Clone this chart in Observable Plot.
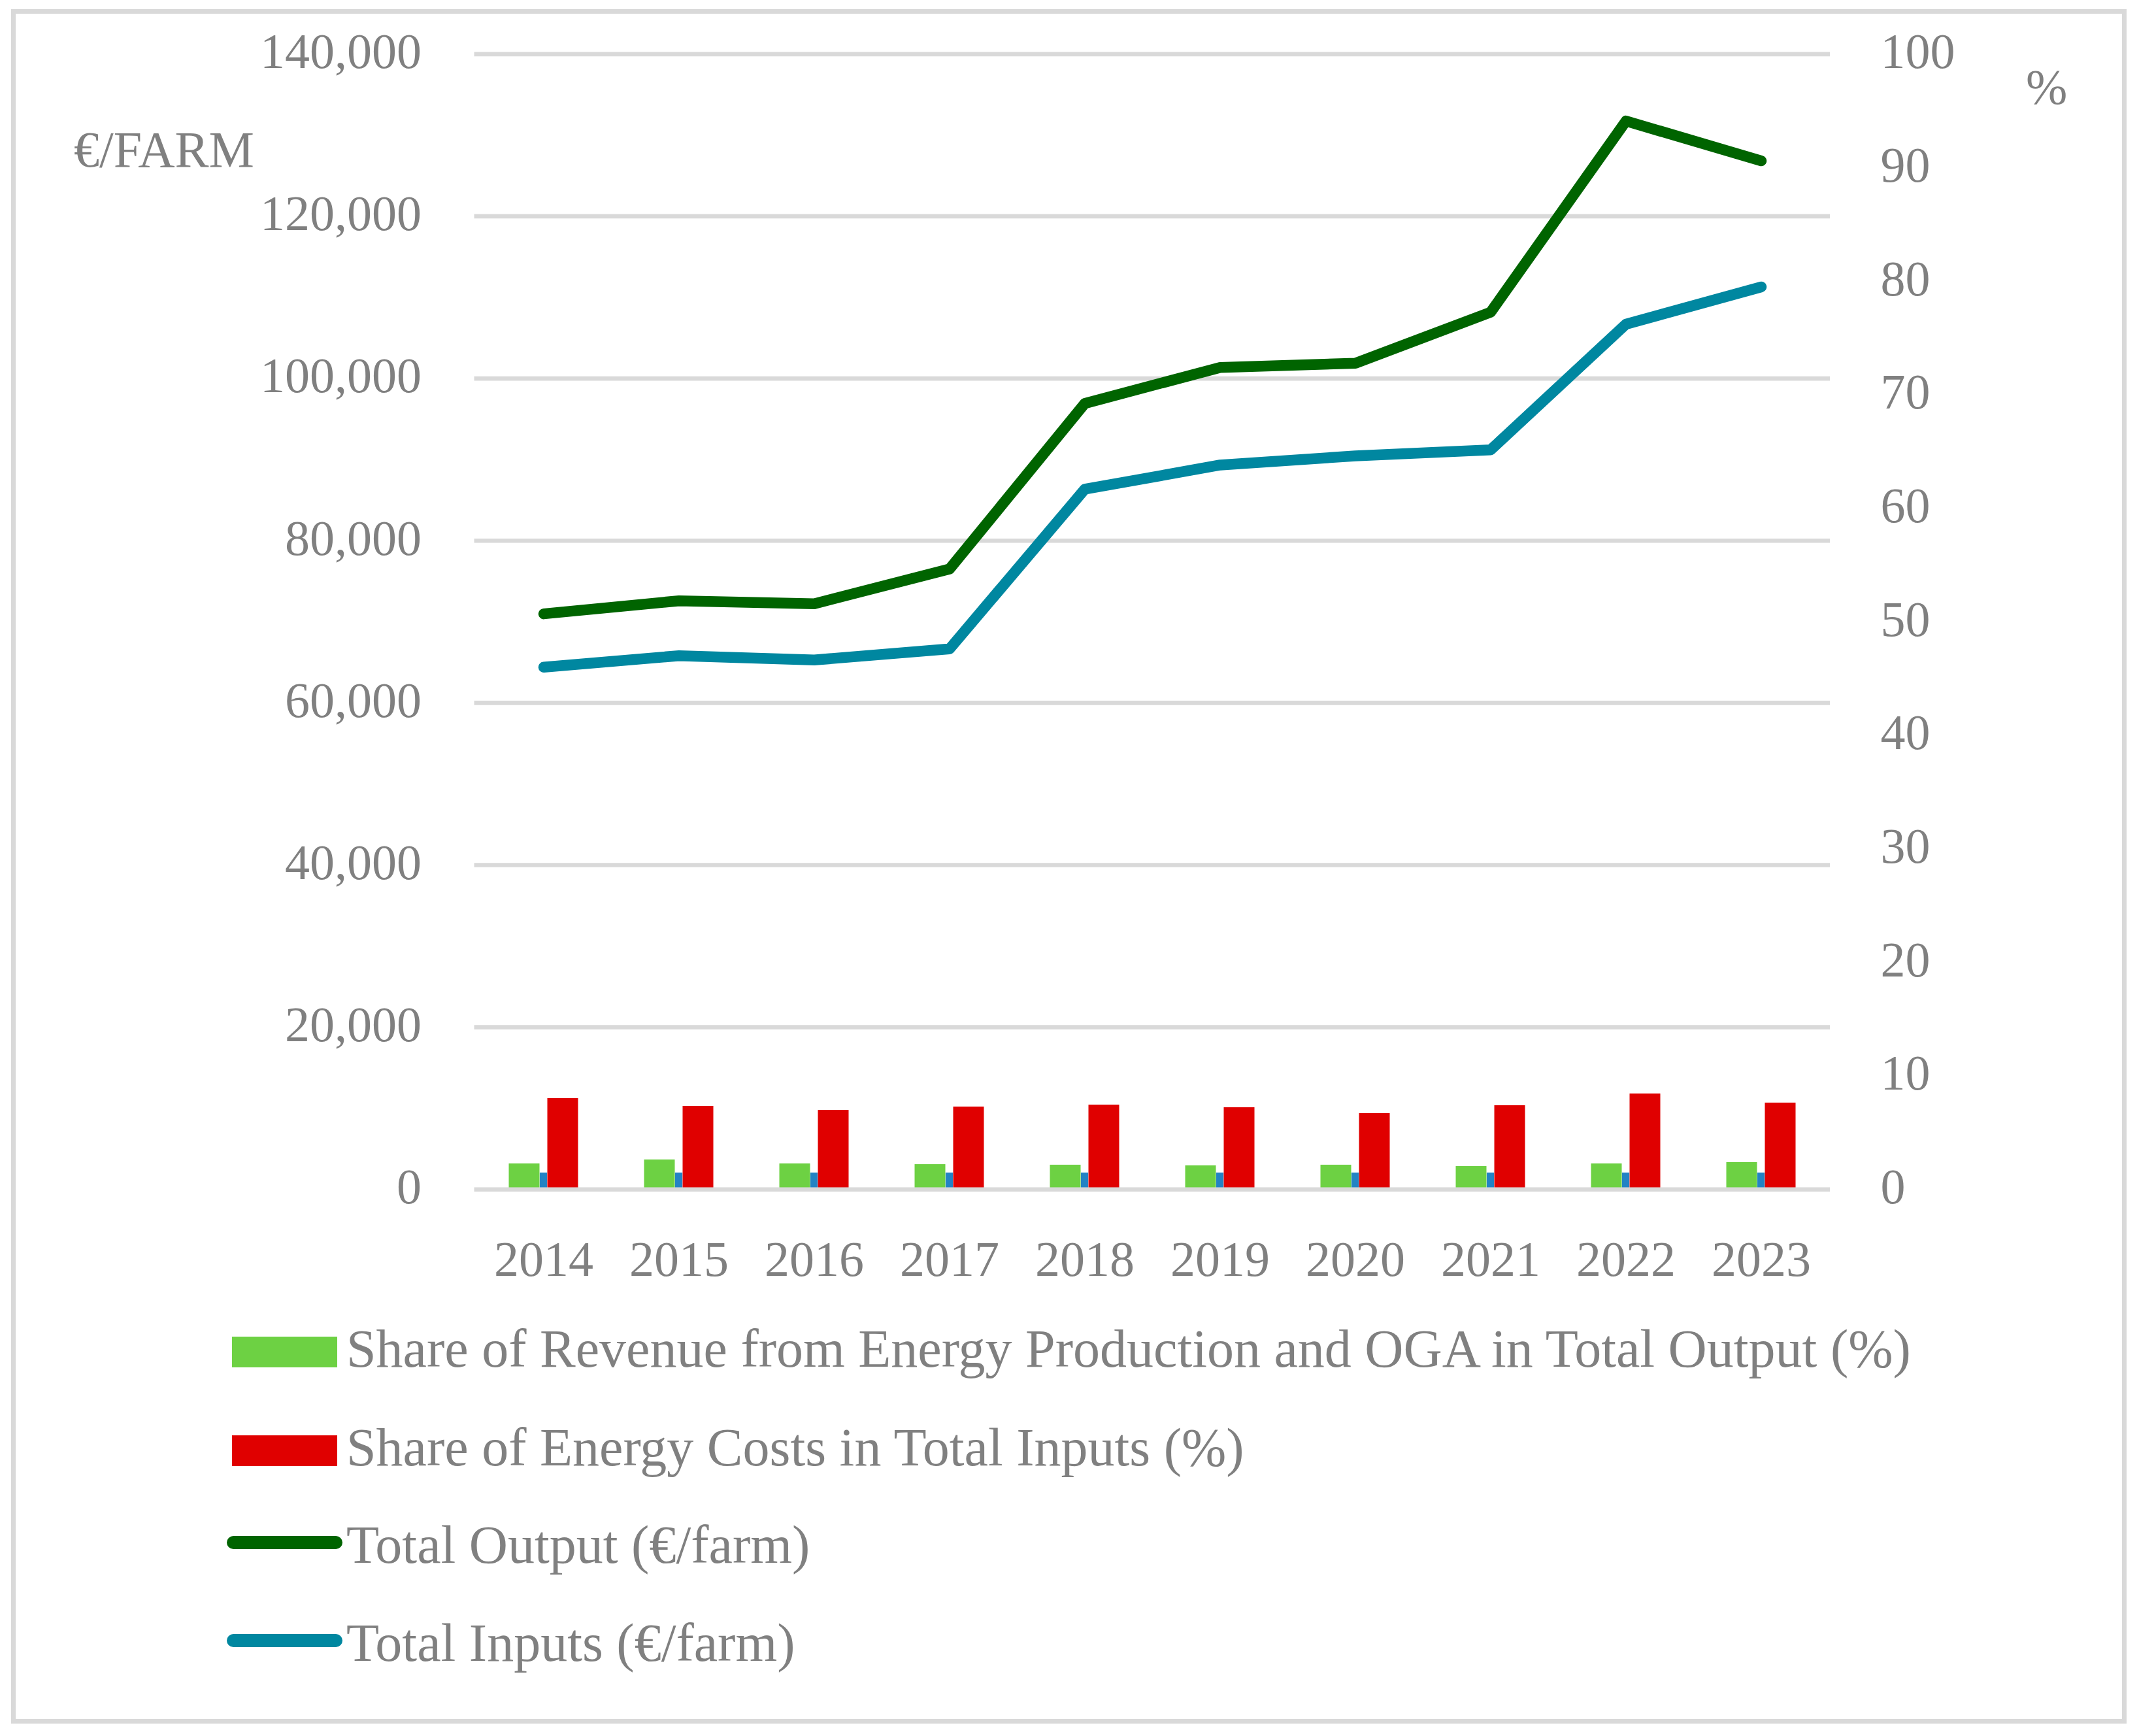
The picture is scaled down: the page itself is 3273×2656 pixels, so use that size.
<!DOCTYPE html>
<html><head><meta charset="utf-8">
<script src="https://cdn.jsdelivr.net/npm/d3@7"></script>
<script src="https://cdn.jsdelivr.net/npm/@observablehq/plot@0.6"></script>
<style>
html,body{margin:0;padding:0;background:#fff;}
#page{position:relative;width:3273px;height:2656px;background:#fff;overflow:hidden;font-family:"Liberation Serif","Times New Roman",serif;color:#808080;}
#frame{position:absolute;left:17px;top:14px;width:3237px;height:2623px;border:7px solid #d9d9d9;box-sizing:border-box;}
#chart{position:absolute;left:0;top:0;}
.lbl{position:absolute;white-space:nowrap;line-height:1;}
.sw{position:absolute;}
</style></head><body>
<div id="page"><div id="frame"></div><div id="chart"></div></div>
<script>
// ---- data ----
const years = ["2014","2015","2016","2017","2018","2019","2020","2021","2022","2023"];
const totalOutput = [70980, 72590, 72220, 76510, 96930, 101360, 101880, 108180, 131750, 126840];
const totalInputs = [64400, 65820, 65290, 66660, 86350, 89330, 90460, 91210, 106700, 111290];
const revenueShare = [2.26, 2.61, 2.26, 2.20, 2.15, 2.09, 2.15, 2.03, 2.26, 2.38];
const otherShare = [1.46, 1.46, 1.46, 1.46, 1.46, 1.46, 1.46, 1.46, 1.46, 1.46];
const costShare = [8.02, 7.33, 6.98, 7.27, 7.44, 7.21, 6.70, 7.39, 8.42, 7.62];
const leftTicks = [0, 20000, 40000, 60000, 80000, 100000, 120000, 140000];
const rightTicks = [0, 10, 20, 30, 40, 50, 60, 70, 80, 90, 100];
const leftMax = 140000, rightMax = 100;
const legendItems = [
  {label: "Share of Revenue from Energy Production and OGA in Total Output (%)", kind: "rect", color: "#6dd143"},
  {label: "Share of Energy Costs in Total Inputs (%)", kind: "rect", color: "#e00000"},
  {label: "Total Output (€/farm)", kind: "line", color: "#006400"},
  {label: "Total Inputs (€/farm)", kind: "line", color: "#0087a0"}
];

const k = leftMax / rightMax; // % -> left axis units
const rows = years.map((y, i) => ({
  year: y, output: totalOutput[i], inputs: totalInputs[i],
  rev: revenueShare[i] * k, other: otherShare[i] * k, cost: costShare[i] * k
}));

const gray = "#808080";
const font = "Liberation Serif";
const plot = Plot.plot({
  width: 3273,
  height: 2000,
  marginTop: 82.3,
  marginBottom: 180.7,
  marginLeft: 725.5,
  marginRight: 473,
  style: {fontFamily: font, fontSize: "76px", color: gray, background: "transparent", overflow: "visible"},
  x: {type: "band", domain: years, padding: 0, label: null},
  y: {domain: [0, leftMax], label: null},
  marks: [
    Plot.barY(rows, {x: "year", y: "other", fill: "#2383c4", insetLeft: 97.9, insetRight: 97.9}),
    Plot.barY(rows, {x: "year", y: "rev", fill: "#6dd143", insetLeft: 50.5, insetRight: 109.5}),
    Plot.barY(rows, {x: "year", y: "cost", fill: "#e00000", insetLeft: 109.5, insetRight: 50.5}),
    Plot.ruleY(leftTicks, {stroke: "#d9d9d9", strokeWidth: 6.7}),
    Plot.line(rows, {x: "year", y: "inputs", stroke: "#0087a0", strokeWidth: 16.5, strokeLinecap: "round", strokeLinejoin: "round"}),
    Plot.line(rows, {x: "year", y: "output", stroke: "#006400", strokeWidth: 16.5, strokeLinecap: "round", strokeLinejoin: "round"}),
    Plot.axisY(leftTicks, {anchor: "left", tickSize: 0, tickPadding: 81, tickFormat: d3.format(","), fontSize: 76, fill: gray, dy: -3, label: null}),
    Plot.axisY(rightTicks.map(v => v * k), {anchor: "right", tickSize: 0, tickPadding: 77, tickFormat: d => String(Math.round(d / k)), fontSize: 76, fill: gray, dy: -3, label: null}),
    Plot.axisX({anchor: "bottom", tickSize: 0, tickPadding: 78, fontSize: 76, fill: gray, label: null})
  ]
});
document.getElementById("chart").appendChild(plot);

const page = document.getElementById("page");
function addText(txt, left, baseline, size) {
  const d = document.createElement("div");
  d.className = "lbl";
  d.textContent = txt;
  d.style.fontSize = size + "px";
  d.style.left = left + "px";
  d.style.top = (baseline - 0.8375 * size) + "px";
  page.appendChild(d);
}
addText("€/FARM", 113, 255, 78);
addText("%", 3100, 159, 76);

const baselines = [2091.7, 2242.7, 2391.7, 2541.7];
legendItems.forEach((it, i) => {
  const b = baselines[i];
  const s = document.createElement("div");
  s.className = "sw";
  s.style.background = it.color;
  if (it.kind === "rect") {
    s.style.left = "354.5px"; s.style.width = "161.5px";
    s.style.top = (b - 46.7) + "px"; s.style.height = "46.7px";
  } else {
    s.style.left = "347px"; s.style.width = "177px";
    s.style.top = (b - 31.7 - 10) + "px"; s.style.height = "20px";
    s.style.borderRadius = "10px";
  }
  page.appendChild(s);
  addText(it.label, 530, b, 82);
});
</script>
</body></html>
